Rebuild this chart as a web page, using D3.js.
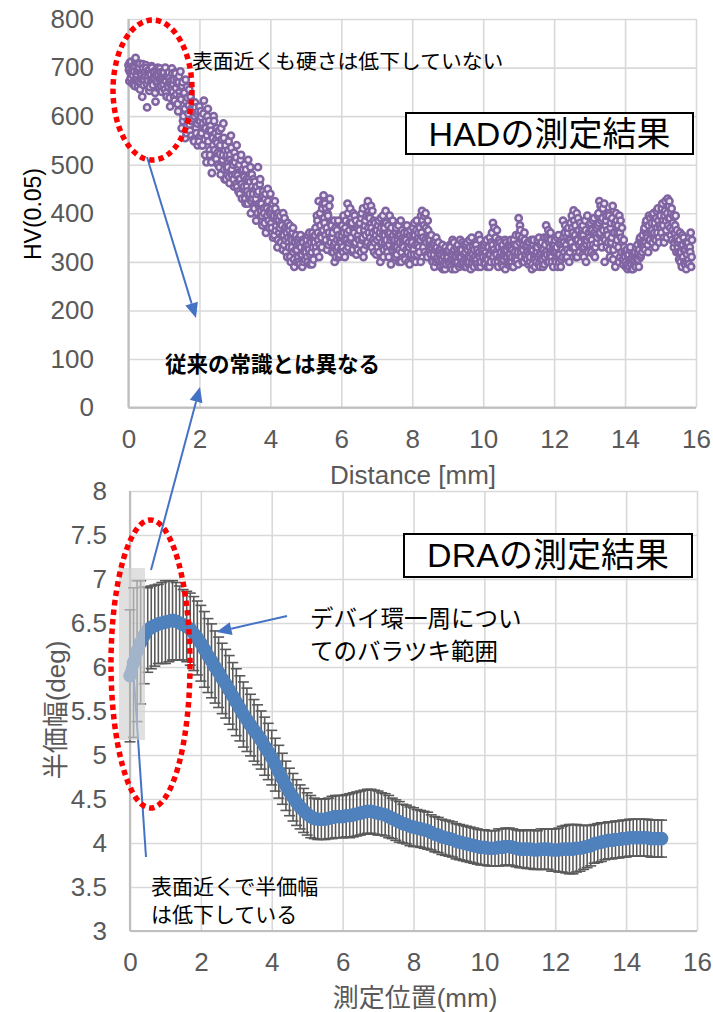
<!DOCTYPE html>
<html lang="ja">
<head>
<meta charset="UTF-8" />
<title>HAD / DRA</title>
<script src="https://d3js.org/d3.v7.min.js"></script>
<style>
  body { margin: 0; background: #fff; }
  svg text { font-family: "Liberation Sans", Arial, "Noto Sans CJK JP", sans-serif; }
</style>
</head>
<body>
<script>
// ---- tick labels ----
const distTicks = [0, 2, 4, 6, 8, 10, 12, 14, 16];
const hvTicks = [0, 100, 200, 300, 400, 500, 600, 700, 800];
const fwhmTicks = [3, 3.5, 4, 4.5, 5, 5.5, 6, 6.5, 7, 7.5, 8];

// ---- HAD: HV(0.05) readings, one list per mm, sampled every 0.025 mm ----
const hvStep = 0.025;
const hv0 = [705, 672, 690, 712, 668, 684, 698, 662, 720, 680, 693, 671, 700, 655, 688, 676, 707, 664, 690, 682,
             699, 618, 673, 694, 660, 686, 703, 670, 679, 692, 648, 684, 669, 700, 657, 676, 690, 662, 681, 672];
const hv1 = [690, 655, 672, 640, 685, 660, 678, 620, 665, 698, 650, 675, 632, 688, 645, 668, 610, 682, 640, 660,
             575, 670, 600, 648, 555, 630, 660, 590, 622, 582, 640, 560, 612, 595, 548, 628, 575, 605, 540, 592];
const hv2 = [620, 560, 598, 540, 585, 632, 552, 575, 505, 600, 548, 590, 520, 570, 483, 555, 600, 530, 565, 512,
             545, 500, 570, 522, 480, 552, 510, 585, 490, 530, 470, 520, 495, 548, 462, 510, 535, 478, 500, 455];
const hv3 = [505, 460, 540, 478, 445, 500, 470, 520, 430, 490, 455, 500, 420, 470, 445, 510, 435, 465, 400, 480,
             430, 470, 410, 450, 385, 440, 495, 415, 460, 395, 420, 375, 445, 400, 430, 360, 410, 450, 385, 405];
const hv4 = [440, 380, 410, 350, 395, 425, 365, 385, 330, 400, 360, 395, 340, 375, 325, 355, 390, 345, 365, 310,
             350, 330, 375, 300, 345, 360, 320, 290, 340, 355, 325, 345, 300, 335, 355, 315, 290, 340, 322, 305];
const hv5 = [320, 345, 300, 335, 360, 315, 340, 295, 330, 350, 340, 370, 320, 385, 345, 310, 400, 355, 330, 420,
             437, 380, 355, 410, 325, 395, 360, 430, 340, 375, 350, 320, 385, 340, 310, 365, 330, 355, 315, 345];
const hv6 = [340, 375, 320, 360, 310, 385, 345, 420, 330, 365, 410, 350, 380, 325, 365, 395, 340, 315, 370, 355,
             345, 380, 320, 400, 350, 310, 365, 385, 335, 415, 425, 360, 390, 335, 370, 405, 345, 320, 380, 355];
const hv7 = [365, 330, 385, 350, 300, 370, 340, 395, 325, 355, 405, 345, 320, 375, 335, 360, 295, 350, 385, 330,
             345, 310, 370, 330, 355, 300, 340, 385, 320, 350, 330, 360, 305, 345, 375, 320, 340, 295, 365, 335];
const hv8 = [340, 370, 315, 355, 300, 385, 335, 360, 320, 345, 395, 405, 350, 375, 320, 400, 340, 310, 365, 330,
             345, 315, 330, 300, 340, 290, 325, 350, 305, 320, 300, 325, 290, 315, 335, 295, 310, 285, 320, 305];
const hv9 = [310, 325, 295, 330, 305, 285, 320, 340, 300, 315, 330, 300, 318, 290, 345, 310, 325, 295, 335, 305,
             320, 290, 340, 310, 300, 330, 285, 350, 315, 305, 325, 300, 335, 295, 315, 355, 310, 290, 330, 320];
const hv10 = [310, 335, 295, 320, 345, 305, 330, 290, 315, 340, 360, 380, 325, 300, 350, 315, 335, 290, 345, 310,
              320, 295, 335, 305, 325, 285, 340, 310, 300, 330, 315, 345, 300, 325, 290, 335, 310, 355, 305, 320];
const hv11 = [390, 340, 365, 310, 350, 325, 300, 345, 315, 335, 320, 295, 340, 310, 330, 285, 325, 345, 305, 315,
              300, 330, 310, 350, 290, 320, 340, 305, 325, 295, 335, 375, 315, 345, 300, 330, 360, 310, 325, 290];
const hv12 = [320, 345, 300, 330, 290, 355, 315, 335, 305, 325, 385, 340, 360, 310, 350, 325, 370, 300, 345, 330,
              395, 360, 406, 330, 375, 345, 310, 390, 335, 355, 340, 370, 315, 355, 330, 385, 300, 345, 325, 360];
const hv13 = [350, 380, 320, 365, 335, 390, 310, 355, 340, 375, 400, 425, 360, 385, 330, 410, 350, 300, 375, 395,
              365, 340, 395, 310, 380, 350, 415, 325, 360, 290, 400, 345, 375, 300, 360, 385, 320, 340, 295, 330];
const hv14 = [310, 290, 325, 285, 315, 300, 330, 295, 305, 285, 300, 320, 290, 310, 335, 305, 325, 350, 315, 340,
              355, 330, 370, 340, 385, 350, 320, 395, 345, 365, 380, 340, 400, 360, 330, 390, 370, 410, 350, 375];
const hv15 = [395, 360, 420, 375, 340, 405, 385, 350, 430, 390, 425, 370, 400, 345, 380, 330, 360, 395, 320, 350,
              340, 305, 360, 320, 290, 335, 350, 300, 325, 285, 315, 340, 295, 330, 360, 310];
// second pass, taken half a step (0.0125 mm) further in
const hvMid0 = [695, 710, 678, 688, 702, 666, 692, 715, 674, 686, 660, 696, 708, 670, 684, 640, 698, 676, 689, 705,
                667, 680, 694, 652, 688, 672, 700, 664, 690, 678, 630, 695, 672, 686, 660, 698, 674, 650, 688, 665];
const hvMid1 = [675, 700, 648, 682, 665, 690, 638, 672, 655, 688, 665, 640, 690, 658, 676, 625, 670, 650, 692, 635,
                662, 590, 645, 615, 675, 565, 638, 605, 655, 570, 615, 590, 630, 552, 600, 618, 565, 585, 610, 548];
const hvMid2 = [590, 610, 565, 540, 605, 575, 520, 590, 560, 615, 570, 530, 580, 505, 560, 540, 590, 515, 550, 575,
                525, 560, 495, 540, 575, 505, 520, 555, 470, 540, 515, 490, 530, 475, 520, 560, 490, 505, 470, 525];
const hvMid3 = [480, 515, 455, 495, 470, 440, 510, 460, 485, 450, 475, 430, 490, 455, 420, 470, 440, 495, 425, 455,
                440, 410, 465, 430, 455, 400, 445, 420, 470, 405, 395, 435, 410, 380, 440, 415, 395, 425, 370, 400];
const hvMid4 = [405, 370, 420, 390, 355, 410, 375, 395, 345, 385, 370, 340, 380, 355, 400, 335, 370, 320, 360, 380,
                340, 365, 310, 350, 330, 370, 305, 345, 325, 300, 335, 310, 350, 295, 330, 315, 345, 300, 320, 330];
const hvMid5 = [335, 310, 355, 325, 295, 345, 320, 360, 305, 340, 355, 330, 395, 360, 425, 335, 375, 350, 410, 365,
                390, 420, 345, 370, 400, 335, 415, 350, 380, 320, 360, 335, 300, 370, 325, 345, 385, 310, 340, 325];
const hvMid6 = [355, 330, 395, 345, 370, 325, 360, 400, 340, 380, 345, 375, 320, 400, 360, 335, 385, 350, 325, 375,
                365, 335, 390, 345, 410, 325, 375, 355, 395, 340, 370, 395, 350, 415, 330, 360, 385, 340, 365, 315];
const hvMid7 = [345, 375, 320, 360, 390, 335, 355, 310, 370, 340, 380, 330, 360, 310, 395, 345, 370, 325, 355, 340,
                330, 360, 315, 345, 375, 325, 355, 300, 365, 340, 345, 310, 350, 325, 360, 300, 330, 355, 315, 345];
const hvMid8 = [355, 325, 380, 335, 365, 315, 350, 330, 370, 300, 360, 385, 330, 395, 345, 370, 315, 385, 350, 340,
                325, 355, 305, 335, 315, 345, 300, 330, 310, 340, 315, 295, 330, 305, 285, 320, 300, 330, 295, 315];
const hvMid9 = [320, 300, 335, 290, 315, 345, 305, 325, 285, 310, 300, 335, 310, 325, 295, 320, 340, 300, 315, 290,
                335, 305, 325, 295, 345, 310, 320, 300, 330, 290, 310, 340, 305, 325, 290, 320, 345, 300, 315, 335];
const hvMid10 = [325, 300, 340, 310, 290, 330, 315, 350, 300, 325, 335, 310, 370, 345, 320, 365, 300, 330, 310, 340,
                 305, 330, 290, 320, 345, 310, 325, 295, 335, 315, 300, 330, 310, 290, 345, 320, 300, 335, 315, 295];
const hvMid11 = [355, 375, 320, 345, 300, 335, 360, 310, 330, 305, 340, 315, 300, 325, 345, 295, 335, 310, 290, 330,
                 320, 345, 295, 315, 335, 305, 325, 290, 350, 310, 320, 350, 300, 365, 340, 315, 345, 300, 335, 320];
const hvMid12 = [335, 305, 320, 350, 315, 300, 340, 290, 330, 310, 350, 320, 375, 335, 310, 360, 345, 320, 380, 340,
                 370, 330, 385, 355, 310, 400, 345, 365, 320, 380, 355, 330, 375, 310, 345, 365, 335, 395, 320, 350];
const hvMid13 = [335, 365, 345, 385, 315, 360, 330, 370, 350, 395, 380, 355, 415, 340, 390, 365, 420, 345, 385, 330,
                 355, 400, 325, 370, 340, 390, 305, 360, 380, 335, 385, 360, 330, 395, 310, 350, 370, 305, 345, 320];
const hvMid14 = [300, 320, 295, 310, 290, 325, 305, 285, 315, 300, 315, 295, 330, 305, 320, 290, 345, 310, 335, 320,
                 340, 365, 325, 380, 355, 335, 375, 345, 390, 360, 365, 395, 350, 380, 345, 405, 360, 385, 340, 395];
const hvMid15 = [370, 410, 385, 350, 395, 425, 365, 400, 375, 415, 390, 355, 410, 365, 395, 340, 375, 345, 365, 330,
                 320, 345, 300, 335, 355, 310, 325, 295, 340, 300, 330, 305, 350, 320, 290, 345];
const hvSegments = [hv0, hv1, hv2, hv3, hv4, hv5, hv6, hv7, hv8, hv9, hv10, hv11, hv12, hv13, hv14, hv15];
const hvMidSegments = [hvMid0, hvMid1, hvMid2, hvMid3, hvMid4, hvMid5, hvMid6, hvMid7,
                       hvMid8, hvMid9, hvMid10, hvMid11, hvMid12, hvMid13, hvMid14, hvMid15];

// ---- DRA: half width (deg) and spread round the Debye ring, every 0.1 mm from 0 ----
const draStep = 0.1;
const draFwhm = [
  5.90, 6.05, 6.18, 6.28, 6.36, 6.42, 6.45, 6.47, 6.49, 6.50,
  6.51, 6.52, 6.53, 6.52, 6.50, 6.48, 6.46, 6.43, 6.38, 6.33,
  6.27, 6.20, 6.13, 6.07, 6.00, 5.94, 5.87, 5.81, 5.74, 5.67,
  5.60, 5.53, 5.46, 5.40, 5.34, 5.28, 5.23, 5.17, 5.10, 5.04,
  4.97, 4.89, 4.81, 4.73, 4.65, 4.58, 4.52, 4.46, 4.41, 4.37,
  4.33, 4.30, 4.28, 4.27, 4.27, 4.27, 4.28, 4.29, 4.30, 4.30,
  4.30, 4.31, 4.31, 4.32, 4.33, 4.34, 4.35, 4.36, 4.36, 4.35,
  4.34, 4.33, 4.32, 4.30, 4.28, 4.26, 4.24, 4.22, 4.21, 4.19,
  4.18, 4.17, 4.16, 4.15, 4.14, 4.12, 4.10, 4.09, 4.07, 4.06,
  4.05, 4.04, 4.02, 4.01, 4.00, 3.99, 3.98, 3.97, 3.96, 3.95,
  3.95, 3.94, 3.94, 3.94, 3.95, 3.95, 3.96, 3.96, 3.95, 3.94,
  3.93, 3.93, 3.93, 3.93, 3.92, 3.92, 3.93, 3.93, 3.93, 3.92,
  3.92, 3.92, 3.93, 3.93, 3.93, 3.93, 3.94, 3.94, 3.95, 3.96,
  3.97, 3.99, 4.00, 4.01, 4.02, 4.03, 4.03, 4.04, 4.04, 4.05,
  4.05, 4.06, 4.06, 4.06, 4.06, 4.06, 4.06, 4.05, 4.05, 4.05,
  4.05
];
const draErr = [
  0.75, 0.85, 0.80, 0.70, 0.55, 0.48, 0.47, 0.46, 0.45, 0.46,
  0.47, 0.46, 0.45, 0.44, 0.42, 0.40, 0.40, 0.41, 0.42, 0.42,
  0.43, 0.43, 0.42, 0.42, 0.41, 0.40, 0.40, 0.39, 0.39, 0.38,
  0.38, 0.37, 0.37, 0.36, 0.35, 0.35, 0.34, 0.33, 0.33, 0.32,
  0.31, 0.30, 0.30, 0.29, 0.28, 0.27, 0.27, 0.26, 0.25, 0.25,
  0.24, 0.24, 0.23, 0.23, 0.23, 0.23, 0.23, 0.24, 0.24, 0.24,
  0.24, 0.24, 0.25, 0.25, 0.25, 0.25, 0.25, 0.25, 0.25, 0.25,
  0.25, 0.24, 0.24, 0.24, 0.23, 0.23, 0.23, 0.22, 0.22, 0.22,
  0.22, 0.21, 0.21, 0.21, 0.21, 0.20, 0.20, 0.20, 0.20, 0.20,
  0.20, 0.20, 0.20, 0.20, 0.20, 0.20, 0.20, 0.20, 0.20, 0.20,
  0.20, 0.20, 0.20, 0.20, 0.21, 0.21, 0.21, 0.21, 0.21, 0.21,
  0.21, 0.21, 0.22, 0.22, 0.22, 0.22, 0.23, 0.23, 0.23, 0.24,
  0.24, 0.25, 0.26, 0.27, 0.28, 0.28, 0.27, 0.26, 0.25, 0.24,
  0.23, 0.22, 0.22, 0.22, 0.21, 0.21, 0.21, 0.21, 0.21, 0.21,
  0.21, 0.21, 0.21, 0.21, 0.21, 0.21, 0.21, 0.21, 0.21, 0.21,
  0.21
];

const svg = d3.select("body").append("svg").attr("width", 713).attr("height", 1012);

// scales
const xTop = d3.scaleLinear().domain([0, 16]).range([128.5, 696]);
const yTop = d3.scaleLinear().domain([0, 800]).range([407.6, 19]);
const xBot = d3.scaleLinear().domain([0, 16]).range([130, 697]);
const yBot = d3.scaleLinear().domain([3, 8]).range([931, 491]);

// grid, axis lines and tick labels for one panel
function panel(x, y, yTickVals, yPad) {
  const [x0, x1] = x.range();
  const [y0, y1] = y.range();
  const g = svg.append("g");

  g.append("g").attr("transform", `translate(0,${y0})`)
    .call(d3.axisBottom(x).tickValues(distTicks).tickSize(-(y0 - y1)).tickFormat(""))
    .call(s => s.select(".domain").remove())
    .selectAll("line").attr("stroke", "#d9d9d9").attr("stroke-width", 1.6);
  g.append("g").attr("transform", `translate(${x0},0)`)
    .call(d3.axisLeft(y).tickValues(yTickVals).tickSize(-(x1 - x0)).tickFormat(""))
    .call(s => s.select(".domain").remove())
    .selectAll("line").attr("stroke", "#d9d9d9").attr("stroke-width", 1.6);

  g.append("line").attr("x1", x0).attr("x2", x0).attr("y1", y1).attr("y2", y0)
    .attr("stroke", "#bfbfbf").attr("stroke-width", 2.2);
  g.append("line").attr("x1", x0).attr("x2", x1).attr("y1", y0).attr("y2", y0)
    .attr("stroke", "#bfbfbf").attr("stroke-width", 2.2);

  const xa = g.append("g").attr("transform", `translate(0,${y0})`)
    .call(d3.axisBottom(x).tickValues(distTicks).tickSize(0).tickPadding(22));
  const ya = g.append("g").attr("transform", `translate(${x0},0)`)
    .call(d3.axisLeft(y).tickValues(yTickVals).tickSize(0).tickPadding(yPad).tickFormat(d3.format("")));
  [xa, ya].forEach(a => {
    a.select(".domain").remove();
    a.selectAll("text").attr("font-size", 26).attr("fill", "#595959")
      .style("font-family", "'Liberation Sans', Arial, sans-serif");
  });
}

panel(xTop, yTop, hvTicks, 34.5);
panel(xBot, yBot, fwhmTicks, 23);

// axis titles
svg.append("text").attr("transform", "translate(33,214) rotate(-90)")
  .attr("text-anchor", "middle").attr("dominant-baseline", "central")
  .attr("font-size", 23).attr("fill", "#000").text("HV(0.05)");
svg.append("text").attr("x", 413).attr("y", 484).attr("text-anchor", "middle")
  .attr("font-size", 26).attr("fill", "#595959").text("Distance [mm]");
svg.append("text").attr("transform", "translate(56,710) rotate(-90)")
  .attr("text-anchor", "middle").attr("dominant-baseline", "central")
  .attr("font-size", 26).attr("fill", "#595959").text("半価幅(deg)");
svg.append("text").attr("x", 415).attr("y", 1007).attr("text-anchor", "middle")
  .attr("font-size", 26).attr("fill", "#595959").text("測定位置(mm)");

// HAD scatter
const hvPoints = [];
hvSegments.forEach((seg, s) => seg.forEach((v, i) => hvPoints.push({ d: s + i * hvStep, hv: v })));
hvMidSegments.forEach((seg, s) => seg.forEach((v, i) => hvPoints.push({ d: s + (i + 0.5) * hvStep, hv: v })));
hvPoints.sort((a, b) => a.d - b.d);
svg.append("g").selectAll("circle").data(hvPoints).join("circle")
  .attr("cx", d => xTop(d.d)).attr("cy", d => yTop(d.hv)).attr("r", 3.2)
  .attr("fill", "#ece6f2").attr("stroke", "#8064a2").attr("stroke-width", 2.5);

// DRA error bars
const dra = draFwhm.map((v, i) => ({ d: i * draStep, v: v, e: draErr[i] }));
const eb = svg.append("g").attr("stroke", "#595959").attr("stroke-width", 1.6);
eb.selectAll(".bar").data(dra).join("line").attr("class", "bar")
  .attr("x1", d => xBot(d.d)).attr("x2", d => xBot(d.d))
  .attr("y1", d => yBot(d.v + d.e)).attr("y2", d => yBot(d.v - d.e));
eb.selectAll(".capHi").data(dra).join("line").attr("class", "capHi")
  .attr("x1", d => xBot(d.d) - 5.5).attr("x2", d => xBot(d.d) + 5.5)
  .attr("y1", d => yBot(d.v + d.e)).attr("y2", d => yBot(d.v + d.e));
eb.selectAll(".capLo").data(dra).join("line").attr("class", "capLo")
  .attr("x1", d => xBot(d.d) - 5.5).attr("x2", d => xBot(d.d) + 5.5)
  .attr("y1", d => yBot(d.v - d.e)).attr("y2", d => yBot(d.v - d.e));

// DRA line with overlapping markers
const draLine = d3.line().x(d => xBot(d.d)).y(d => yBot(d.v));
svg.append("path").datum(dra).attr("d", draLine).attr("fill", "none")
  .attr("stroke", "#4f81bd").attr("stroke-width", 12)
  .attr("stroke-linejoin", "round").attr("stroke-linecap", "round");
svg.append("g").selectAll("circle").data(dra).join("circle")
  .attr("cx", d => xBot(d.d)).attr("cy", d => yBot(d.v)).attr("r", 6.8).attr("fill", "#4f81bd");

// pointer line from the lower note, under the shaded band
svg.append("line").attr("x1", 146).attr("y1", 857).attr("x2", 134).attr("y2", 680)
  .attr("stroke", "#4472c4").attr("stroke-width", 2);

// shaded band over the first readings
svg.append("rect").attr("x", 119).attr("y", 568).attr("width", 26).attr("height", 172)
  .attr("fill", "#cfcfcf").attr("opacity", 0.65);

// red dotted ellipses
[[152.5, 90, 39.5, 70], [150.5, 664, 39.5, 144]].forEach(([cx, cy, rx, ry]) => {
  svg.append("ellipse").attr("cx", cx).attr("cy", cy).attr("rx", rx).attr("ry", ry)
    .attr("fill", "none").attr("stroke", "#ff0000").attr("stroke-width", 5.5)
    .attr("stroke-dasharray", "5.5 4");
});

// blue arrows
function arrow(xa, ya, xb, yb) {
  const a = Math.atan2(yb - ya, xb - xa);
  const len = 15, half = 6.5;
  const bx = xb - len * Math.cos(a), by = yb - len * Math.sin(a);
  svg.append("line").attr("x1", xa).attr("y1", ya).attr("x2", bx).attr("y2", by)
    .attr("stroke", "#4472c4").attr("stroke-width", 2);
  svg.append("polygon").attr("fill", "#4472c4").attr("points", [
    [xb, yb],
    [bx + half * Math.sin(a), by - half * Math.cos(a)],
    [bx - half * Math.sin(a), by + half * Math.cos(a)]
  ].map(p => p.join(",")).join(" "));
}
arrow(147, 157, 196, 318);
arrow(151, 570, 200, 387);
arrow(287, 616, 216.5, 632);

// notes
function note(x, y, txt, size, weight) {
  svg.append("text").attr("x", x).attr("y", y).attr("dominant-baseline", "central")
    .attr("font-size", size).attr("font-weight", weight || "normal").attr("fill", "#000")
    .style("font-family", "'Noto Sans CJK JP', sans-serif").text(txt);
}
note(192, 60, "表面近くも硬さは低下していない", 20.8);
note(165, 362, "従来の常識とは異なる", 21.5, "bold");
note(310, 617, "デバイ環一周につい", 23.5);
note(310, 650, "てのバラツキ範囲", 23.5);
note(151, 885, "表面近くで半価幅", 21);
note(151, 913, "は低下している", 21);

// titled boxes
[[406, 113, 287, 41, "HADの測定結果"], [404, 534, 288, 43, "DRAの測定結果"]].forEach(([bx, by, bw, bh, t]) => {
  svg.append("rect").attr("x", bx).attr("y", by).attr("width", bw).attr("height", bh)
    .attr("fill", "#fff").attr("stroke", "#000").attr("stroke-width", 2);
  svg.append("text").attr("x", bx + bw / 2).attr("y", by + 33).attr("text-anchor", "middle")
    .attr("font-size", 34).attr("fill", "#000").text(t);
});
</script>
</body>
</html>
